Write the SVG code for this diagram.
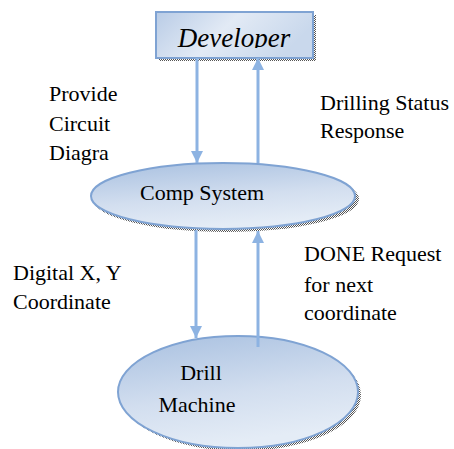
<svg xmlns="http://www.w3.org/2000/svg" width="454" height="449" viewBox="0 0 454 449">
<style>
.t{font-family:'Liberation Serif','Times New Roman',Times,'DejaVu Serif',serif;font-size:22px;fill:#000}
.dev{font-style:italic;font-size:27px}
.c{stroke:#8db3e2;stroke-width:3;fill:none}
.node{stroke:#7fa3d3;stroke-width:2}
</style>
<defs>
<pattern id="dots" width="2" height="2" patternUnits="userSpaceOnUse">
<rect width="2" height="2" fill="#ffffff"/>
<rect width="1" height="1" fill="#555"/>
<rect x="1" y="1" width="1" height="1" fill="#555"/>
</pattern>
<linearGradient id="g1" x1="0" y1="0" x2="0.3" y2="1">
<stop offset="0" stop-color="#a8c0e0"/>
<stop offset="0.6" stop-color="#d2deef"/>
<stop offset="1" stop-color="#e4ecf6"/>
</linearGradient>
<linearGradient id="gb" x1="0" y1="0" x2="1" y2="0.3">
<stop offset="0" stop-color="#b9cce6"/>
<stop offset="0.5" stop-color="#e2eaf5"/>
<stop offset="1" stop-color="#c9d8ec"/>
</linearGradient>
<marker id="ah" markerWidth="4" markerHeight="4" refX="4" refY="2" orient="auto" markerUnits="strokeWidth">
<path d="M0,0 L4,2 L0,4 Z" fill="#8db3e2"/>
</marker>
<clipPath id="clipDev"><rect x="156" y="12" width="157" height="36"/></clipPath>
</defs>
<g id="developer">
<rect x="159" y="15" width="157" height="46" fill="url(#dots)"/>
<rect x="156" y="12" width="157" height="46" fill="url(#gb)" class="node"/>
<text x="234" y="47" class="t dev" font-family="Liberation Serif, serif" text-anchor="middle" clip-path="url(#clipDev)">Developer</text>
</g>
<g id="comp-system">
<ellipse cx="226" cy="199" rx="133" ry="33" fill="url(#dots)"/>
<ellipse cx="223" cy="196" rx="132" ry="33" fill="url(#g1)" class="node"/>
<text x="202" y="200" class="t" text-anchor="middle">Comp System</text>
</g>
<g id="drill-machine">
<ellipse cx="241" cy="395" rx="120" ry="56" fill="url(#dots)"/>
<ellipse cx="238" cy="392" rx="120" ry="56" fill="url(#g1)" class="node"/>
<text x="201" y="380" class="t" text-anchor="middle">Drill</text>
<text x="197" y="412" class="t" text-anchor="middle">Machine</text>
</g>
<g id="connectors">
<line x1="197" y1="58" x2="197" y2="163" class="c" marker-end="url(#ah)"/>
<line x1="258" y1="163" x2="258" y2="58" class="c" marker-end="url(#ah)"/>
<line x1="196" y1="230" x2="196" y2="338" class="c" marker-end="url(#ah)"/>
<line x1="258" y1="347" x2="258" y2="231" class="c" marker-end="url(#ah)"/>
</g>
<g id="labels">
<text x="49" y="101" class="t">Provide</text>
<text x="49" y="131" class="t">Circuit</text>
<text x="49" y="160" class="t">Diagra</text>
<text x="320" y="110" class="t">Drilling Status</text>
<text x="320" y="138" class="t">Response</text>
<text x="13" y="280" class="t">Digital X, Y</text>
<text x="13" y="309" class="t">Coordinate</text>
<text x="304" y="261" class="t">DONE Request</text>
<text x="304" y="292" class="t">for next</text>
<text x="304" y="320" class="t">coordinate</text>
</g>
</svg>
